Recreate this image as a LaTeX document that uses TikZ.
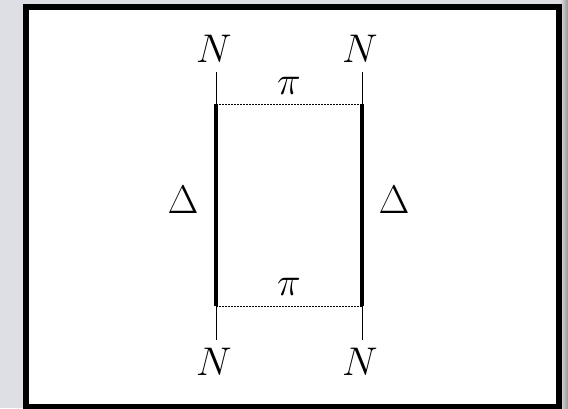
\RequirePackage{fix-cm}
\documentclass[tikz,border=0pt]{standalone}
\definecolor{bgray}{RGB}{221,223,228}
\definecolor{sgray}{RGB}{150,150,150}
\tikzset{
  lbl/.style={inner sep=0pt, font=\fontsize{40}{41}\selectfont},
  thinline/.style={line width=0.9pt},
  thickline/.style={line width=3.3pt},
  dotline/.style={line width=0.9pt, dash pattern=on 1.5pt off 1.5pt},
  frame/.style={line width=6pt}
}
\begin{document}
\begin{tikzpicture}[x=1pt,y=-1pt]
\useasboundingbox (0,0) rectangle (568,408);
\fill[bgray] (0,0) rectangle (568,408);
\shade[left color=bgray, right color=sgray] (560,0) rectangle (568,408);
\fill[white] (26,7) rectangle (558.5,406.5);
\draw[frame] (26,7) rectangle (558.5,406.5);
% labels
\node[lbl] (nTL) at (214,49) {$N$};
\node[lbl] (nTR) at (360,49) {$N$};
\node[lbl] (nBL) at (214,362) {$N$};
\node[lbl] (nBR) at (360,362) {$N$};
\node[lbl] (piT) at (289,86) {$\pi$};
\node[lbl] (piB) at (289,287) {$\pi$};
\node[lbl] (dL) at (183,200) {$\Delta$};
\node[lbl] (dR) at (394,200) {$\Delta$};
% corners
\coordinate (tL) at (216,72);
\coordinate (tR) at (362,72);
\coordinate (aL) at (216,104);
\coordinate (aR) at (362,104);
\coordinate (bL) at (216,306);
\coordinate (bR) at (362,306);
\coordinate (eL) at (216,340);
\coordinate (eR) at (362,340);
\draw[thinline] (tL) -- (aL);
\draw[thinline] (tR) -- (aR);
\draw[thinline] (bL) -- (eL);
\draw[thinline] (bR) -- (eR);
\draw[thickline] (aL) -- (bL);
\draw[thickline] (aR) -- (bR);
\draw[dotline] (aL) -- (aR);
\draw[dotline] (bL) -- (bR);
\end{tikzpicture}
\end{document}
